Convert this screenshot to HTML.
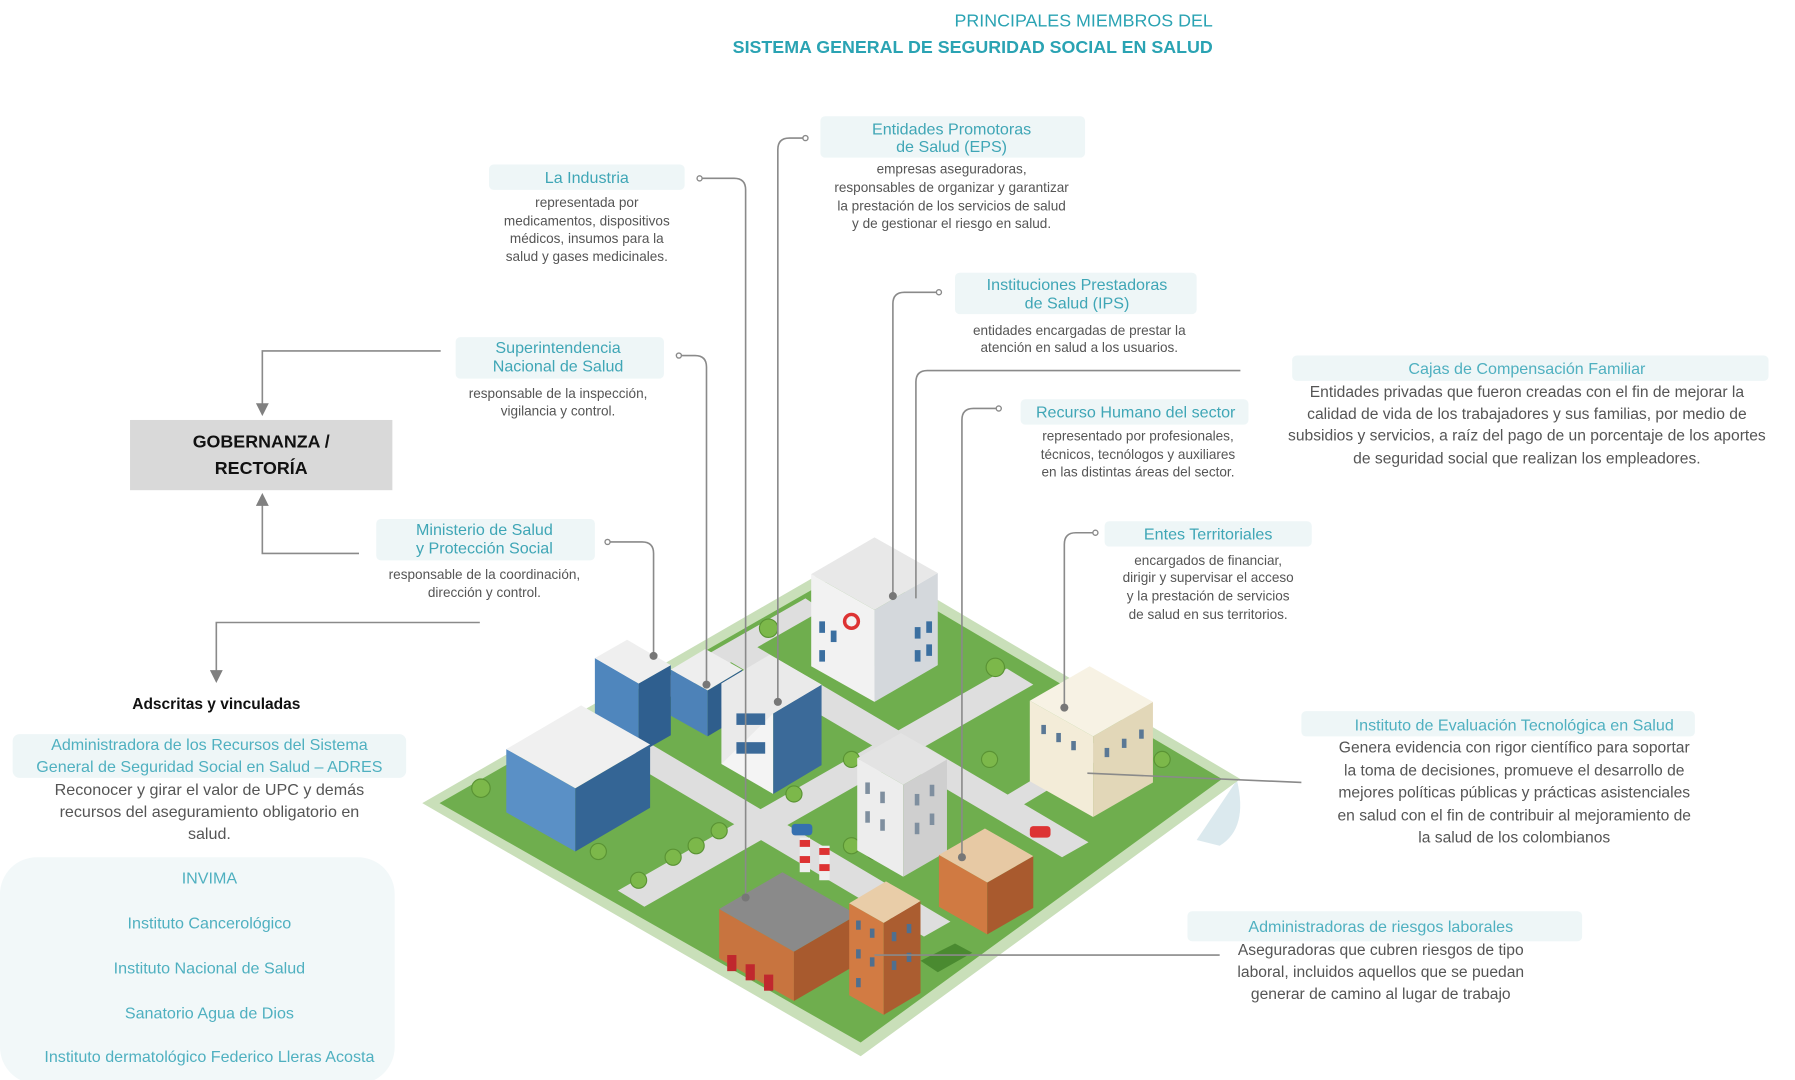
<!DOCTYPE html>
<html><head><meta charset="utf-8">
<style>
html,body{margin:0;padding:0;background:#fff;}
svg{display:block;}
.t{font-family:"Liberation Sans",sans-serif;fill:#3fa6b6;font-size:14px;text-anchor:middle;}
.b{font-family:"Liberation Sans",sans-serif;fill:#555;font-size:11.8px;text-anchor:middle;}
.c{font-family:"Liberation Sans",sans-serif;fill:#4fb0c0;font-size:14px;text-anchor:middle;}
.cb{font-family:"Liberation Sans",sans-serif;fill:#555;font-size:13.6px;text-anchor:middle;}
.ln{stroke:#8a8a8a;stroke-width:1.4;fill:none;}
.hd{fill:#eef6f7;}
</style></head><body>
<svg width="1795" height="1080" viewBox="0 0 1560 938.6" xmlns="http://www.w3.org/2000/svg">
<defs>
<marker id="ar" markerWidth="8" markerHeight="8" refX="4" refY="4" orient="auto"><path d="M0,0 L8,4 L0,8 z" fill="#808080"/></marker>
</defs>
<!-- Title -->
<text x="1054" y="23" style="font-family:'Liberation Sans',sans-serif;font-size:15.5px;fill:#2aa3b3;text-anchor:end">PRINCIPALES MIEMBROS DEL</text>
<text x="1054" y="46" style="font-family:'Liberation Sans',sans-serif;font-size:15.5px;font-weight:bold;fill:#2aa3b3;text-anchor:end">SISTEMA GENERAL DE SEGURIDAD SOCIAL EN SALUD</text>

<!-- City ground -->
<path d="M1075,678 Q1085,720 1060,735 L1040,730 Z" fill="#dbe9ee"/>
<polygon points="745,480 1078,677 748,918 367,698" fill="#c9dfb9"/>
<polygon points="745,490 1062,677 748,906 382,698" fill="#6fae4e"/>
<polygon points="649,557 946,732 923,745 626,570" fill="#dedede"/>
<polygon points="529,625 826,801 803,814 506,638" fill="#dedede"/>
<polygon points="875,581 537,774 560,788 898,595" fill="#dedede"/>
<polygon points="700,520 560,600 575,610 715,530" fill="#dedede"/>
<polygon points="960,640 860,700 875,708 975,648" fill="#dedede"/>

<!-- trees -->
<g fill="#7cb84a" stroke="#5a9334" stroke-width="1">
<circle cx="668" cy="546" r="8"/><circle cx="865" cy="580" r="8"/><circle cx="418" cy="685" r="8"/>
<circle cx="860" cy="660" r="7"/><circle cx="1010" cy="660" r="7"/><circle cx="740" cy="660" r="7"/>
<circle cx="690" cy="690" r="7"/><circle cx="520" cy="740" r="7"/><circle cx="585" cy="745" r="7"/>
<circle cx="605" cy="735" r="7"/><circle cx="555" cy="765" r="7"/><circle cx="625" cy="722" r="7"/>
<circle cx="760" cy="740" r="7"/><circle cx="740" cy="735" r="7"/>
</g>

<!-- buildings (back to front) -->
<!-- hospital -->
<polygon points="760,610 705,579 705,499 760,530" fill="#f2f2f2"/>
<polygon points="760,610 815,578 815,498 760,530" fill="#d4d8dc"/>
<polygon points="760,530 705,499 760,467 815,498" fill="#e8e8e8"/>
<circle cx="740" cy="540" r="6" fill="none" stroke="#d33" stroke-width="3"/>
<g fill="#3b6fa0"><rect x="712" y="540" width="5" height="10"/><rect x="722" y="548" width="5" height="10"/><rect x="712" y="565" width="5" height="10"/><rect x="795" y="545" width="5" height="10"/><rect x="805" y="540" width="5" height="10"/><rect x="795" y="565" width="5" height="10"/><rect x="805" y="560" width="5" height="10"/></g>
<!-- small office -->
<polygon points="615,640 583,622 583,582 615,600" fill="#4d82b8"/>
<polygon points="615,640 645,622 645,582 615,600" fill="#2f5e8c"/>
<polygon points="615,600 583,582 613,564 645,582" fill="#eee"/>
<!-- tower -->
<polygon points="555,655 517,633 517,572 555,594" fill="#4f86bd"/>
<polygon points="555,655 583,639 583,578 555,594" fill="#2f5f8f"/>
<polygon points="555,594 517,572 545,556 583,578" fill="#efefef"/>
<!-- white modern -->
<polygon points="672,690 627,664 627,594 672,620" fill="#f4f4f4"/>
<polygon points="672,690 714,665 714,595 672,620" fill="#3b6a99"/>
<polygon points="672,620 627,664 627,594 669,569 714,595" fill="#eaeaea"/>
<polygon points="672,620 627,594 669,569 714,595" fill="#eaeaea"/>
<g fill="#3b6a99"><rect x="640" y="620" width="25" height="10"/><rect x="640" y="645" width="25" height="10"/></g>
<!-- palace -->
<polygon points="950,710 895,679 895,609 950,640" fill="#f3ecd8"/>
<polygon points="950,710 1002,680 1002,610 950,640" fill="#e2d7b8"/>
<polygon points="950,640 895,609 947,579 1002,610" fill="#f7f2e4"/>
<g fill="#5a7895"><rect x="905" y="630" width="4" height="8"/><rect x="918" y="637" width="4" height="8"/><rect x="931" y="644" width="4" height="8"/><rect x="960" y="650" width="4" height="8"/><rect x="975" y="642" width="4" height="8"/><rect x="990" y="634" width="4" height="8"/></g>
<!-- L building -->
<polygon points="500,740 440,706 440,651 500,685" fill="#5a90c6"/>
<polygon points="500,740 565,702 565,647 500,685" fill="#346595"/>
<polygon points="500,685 440,651 505,613 565,647" fill="#f0f0f0"/>
<!-- white tall -->
<polygon points="785,762 745,739 745,659 785,682" fill="#ededed"/>
<polygon points="785,762 823,740 823,660 785,682" fill="#cfcfcf"/>
<polygon points="785,682 745,659 783,637 823,660" fill="#e3e3e3"/>
<g fill="#7f8f9f"><rect x="752" y="680" width="4" height="10"/><rect x="765" y="688" width="4" height="10"/><rect x="752" y="705" width="4" height="10"/><rect x="765" y="712" width="4" height="10"/><rect x="795" y="690" width="4" height="10"/><rect x="808" y="682" width="4" height="10"/><rect x="795" y="715" width="4" height="10"/><rect x="808" y="707" width="4" height="10"/></g>
<!-- car -->
<rect x="688" y="716" width="18" height="10" rx="3" fill="#3570b0"/>
<rect x="895" y="718" width="18" height="10" rx="3" fill="#d33"/>
<!-- brick2 -->
<polygon points="858,812 816,788 816,743 858,767" fill="#d07a42"/>
<polygon points="858,812 898,789 898,744 858,767" fill="#a95a2e"/>
<polygon points="858,767 816,743 856,720 898,744" fill="#e7c9a4"/>
<!-- chimneys -->
<rect x="695" y="728" width="9" height="30" fill="#eee"/><rect x="695" y="730" width="9" height="6" fill="#d33"/><rect x="695" y="744" width="9" height="6" fill="#d33"/>
<rect x="712" y="735" width="9" height="30" fill="#eee"/><rect x="712" y="737" width="9" height="6" fill="#d33"/><rect x="712" y="751" width="9" height="6" fill="#d33"/>
<!-- factory -->
<polygon points="690,870 625,833 625,790 690,827" fill="#c8743f"/>
<polygon points="690,870 745,838 745,795 690,827" fill="#a85a2e"/>
<polygon points="690,827 625,790 680,758 745,795" fill="#8a8a8a"/>
<g fill="#c0282e"><rect x="632" y="830" width="8" height="14"/><rect x="648" y="838" width="8" height="14"/><rect x="664" y="847" width="8" height="14"/></g>
<!-- brick tall -->
<polygon points="768,882 738,865 738,785 768,802" fill="#d27b43"/>
<polygon points="768,882 800,863 800,783 768,802" fill="#ab5d30"/>
<polygon points="768,802 738,785 770,766 800,783" fill="#e9cda8"/>
<g fill="#4f6f8f"><rect x="744" y="800" width="4" height="8"/><rect x="756" y="807" width="4" height="8"/><rect x="744" y="825" width="4" height="8"/><rect x="756" y="832" width="4" height="8"/><rect x="744" y="850" width="4" height="8"/><rect x="775" y="810" width="4" height="8"/><rect x="788" y="803" width="4" height="8"/><rect x="775" y="835" width="4" height="8"/><rect x="788" y="828" width="4" height="8"/></g>
<polygon points="800,835 830,820 845,828 815,845" fill="#4a8a30"/>

<!-- Connectors to city -->
<g class="ln">
<path d="M608,155 H638 Q648,155 648,165 V780"/>
<path d="M700,120 H686 Q676,120 676,130 V610"/>
<path d="M816,254 H786 Q776,254 776,264 V518"/>
<path d="M1078,322 H806 Q796,322 796,332 V520"/>
<path d="M590,309 H604 Q614,309 614,319 V595"/>
<path d="M528,471 H558 Q568,471 568,481 V570"/>
<path d="M868,355 H846 Q836,355 836,365 V745"/>
<path d="M952,463 H935 Q925,463 925,473 V615"/>
<path d="M1131,680 L945,672"/>
<path d="M1060,830 H760"/>
</g>
<g fill="#fff" stroke="#8a8a8a" stroke-width="1.2">
<circle cx="608" cy="155" r="2.2"/><circle cx="700" cy="120" r="2.2"/><circle cx="816" cy="254" r="2.2"/><circle cx="590" cy="309" r="2.2"/><circle cx="528" cy="471" r="2.2"/><circle cx="868" cy="355" r="2.2"/><circle cx="952" cy="463" r="2.2"/>
</g>
<g fill="#777"><circle cx="648" cy="780" r="3.5"/><circle cx="676" cy="610" r="3.5"/><circle cx="776" cy="518" r="3.5"/><circle cx="614" cy="595" r="3.5"/><circle cx="568" cy="570" r="3.5"/><circle cx="836" cy="745" r="3.5"/><circle cx="925" cy="615" r="3.5"/></g>

<!-- Governance arrows -->
<g class="ln">
<path d="M383,305 H228 V356" marker-end="url(#ar)"/>
<path d="M312,481 H228 V434" marker-end="url(#ar)"/>
<path d="M417,541 H188 V588" marker-end="url(#ar)"/>
</g>
<rect x="113" y="365" width="228" height="61" fill="#d9d9d9"/>
<text x="227" y="389" style="font-family:'Liberation Sans',sans-serif;font-weight:bold;font-size:15.5px;text-anchor:middle;fill:#111">GOBERNANZA /</text>
<text x="227" y="412" style="font-family:'Liberation Sans',sans-serif;font-weight:bold;font-size:15.5px;text-anchor:middle;fill:#111">RECTORÍA</text>

<!-- La Industria -->
<rect class="hd" x="425" y="143" width="170" height="22" rx="4"/>
<text class="t" x="510" y="159">La Industria</text>
<text class="b" x="510" y="180">representada por</text>
<text class="b" x="510" y="196">medicamentos, dispositivos</text>
<text class="b" x="510" y="211">médicos, insumos para la</text>
<text class="b" x="510" y="227">salud y gases medicinales.</text>

<!-- EPS -->
<rect class="hd" x="713" y="101" width="230" height="36" rx="4"/>
<text class="t" x="827" y="117">Entidades Promotoras</text>
<text class="t" x="827" y="132">de Salud (EPS)</text>
<text class="b" x="827" y="151">empresas aseguradoras,</text>
<text class="b" x="827" y="167">responsables de organizar y garantizar</text>
<text class="b" x="827" y="183">la prestación de los servicios de salud</text>
<text class="b" x="827" y="198">y de gestionar el riesgo en salud.</text>

<!-- IPS -->
<rect class="hd" x="830" y="237" width="210" height="36" rx="4"/>
<text class="t" x="936" y="252">Instituciones Prestadoras</text>
<text class="t" x="936" y="268">de Salud (IPS)</text>
<text class="b" x="938" y="291">entidades encargadas de prestar la</text>
<text class="b" x="938" y="306">atención en salud a los usuarios.</text>

<!-- Superintendencia -->
<rect class="hd" x="396" y="293" width="181" height="36" rx="4"/>
<text class="t" x="485" y="307">Superintendencia</text>
<text class="t" x="485" y="323">Nacional de Salud</text>
<text class="b" x="485" y="346">responsable de la inspección,</text>
<text class="b" x="485" y="361">vigilancia y control.</text>

<!-- Recurso Humano -->
<rect class="hd" x="887" y="347" width="198" height="22" rx="4"/>
<text class="t" x="987" y="363">Recurso Humano del sector</text>
<text class="b" x="989" y="383">representado por profesionales,</text>
<text class="b" x="989" y="399">técnicos, tecnólogos y auxiliares</text>
<text class="b" x="989" y="414">en las distintas áreas del sector.</text>

<!-- Cajas -->
<rect class="hd" x="1123" y="309" width="414" height="22" rx="4"/>
<text class="c" x="1327" y="325">Cajas de Compensación Familiar</text>
<text class="cb" x="1327" y="345">Entidades privadas que fueron creadas con el fin de mejorar la</text>
<text class="cb" x="1327" y="364">calidad de vida de los trabajadores y sus familias, por medio de</text>
<text class="cb" x="1327" y="383">subsidios y servicios, a raíz del pago de un porcentaje de los aportes</text>
<text class="cb" x="1327" y="403">de seguridad social que realizan los empleadores.</text>

<!-- Ministerio -->
<rect class="hd" x="327" y="451" width="190" height="36" rx="4"/>
<text class="t" x="421" y="465">Ministerio de Salud</text>
<text class="t" x="421" y="481">y Protección Social</text>
<text class="b" x="421" y="503">responsable de la coordinación,</text>
<text class="b" x="421" y="519">dirección y control.</text>

<!-- Entes -->
<rect class="hd" x="960" y="453" width="180" height="22" rx="4"/>
<text class="t" x="1050" y="469">Entes Territoriales</text>
<text class="b" x="1050" y="491">encargados de financiar,</text>
<text class="b" x="1050" y="506">dirigir y supervisar el acceso</text>
<text class="b" x="1050" y="522">y la prestación de servicios</text>
<text class="b" x="1050" y="538">de salud en sus territorios.</text>

<!-- IETS -->
<rect class="hd" x="1131" y="618" width="342" height="22" rx="4"/>
<text class="c" x="1316" y="635">Instituto de Evaluación Tecnológica en Salud</text>
<text class="cb" x="1316" y="654">Genera evidencia con rigor científico para soportar</text>
<text class="cb" x="1316" y="674">la toma de decisiones, promueve el desarrollo de</text>
<text class="cb" x="1316" y="693">mejores políticas públicas y prácticas asistenciales</text>
<text class="cb" x="1316" y="713">en salud con el fin de contribuir al mejoramiento de</text>
<text class="cb" x="1316" y="732">la salud de los colombianos</text>

<!-- ARL -->
<rect class="hd" x="1032" y="792" width="343" height="26" rx="4"/>
<text class="c" x="1200" y="810">Administradoras de riesgos laborales</text>
<text class="cb" x="1200" y="830">Aseguradoras que cubren riesgos de tipo</text>
<text class="cb" x="1200" y="849">laboral, incluidos aquellos que se puedan</text>
<text class="cb" x="1200" y="868">generar de camino al lugar de trabajo</text>

<!-- Adscritas -->
<text x="188" y="616" style="font-family:'Liberation Sans',sans-serif;font-weight:bold;font-size:13.5px;text-anchor:middle;fill:#111">Adscritas y vinculadas</text>
<rect class="hd" x="11" y="638" width="342" height="38" rx="6"/>
<text class="c" x="182" y="652">Administradora de los Recursos del Sistema</text>
<text class="c" x="182" y="671">General de Seguridad Social en Salud – ADRES</text>
<text class="cb" x="182" y="691" style="font-size:14px">Reconocer y girar el valor de UPC y demás</text>
<text class="cb" x="182" y="710" style="font-size:14px">recursos del aseguramiento obligatorio en</text>
<text class="cb" x="182" y="729" style="font-size:14px">salud.</text>
<rect x="0" y="745" width="343" height="197" rx="32" fill="#f2f8f9"/>
<text class="c" x="182" y="768">INVIMA</text>
<text class="c" x="182" y="807">Instituto Cancerológico</text>
<text class="c" x="182" y="846">Instituto Nacional de Salud</text>
<text class="c" x="182" y="885">Sanatorio Agua de Dios</text>
<text class="c" x="182" y="923">Instituto dermatológico Federico Lleras Acosta</text>
</svg>
</body></html>
